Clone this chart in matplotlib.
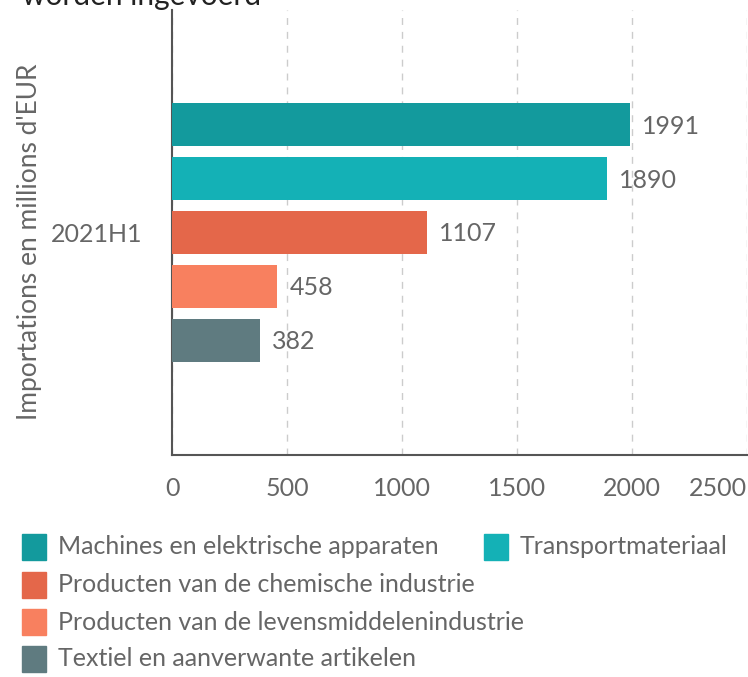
import matplotlib.pyplot as plt
from matplotlib.patches import Rectangle

plt.rcParams['font.family'] = ['Lato', 'DejaVu Sans']

categories = ["2021H1"]
series = ["Machines en elektrische apparaten", "Transportmateriaal",
          "Producten van de chemische industrie",
          "Producten van de levensmiddelenindustrie",
          "Textiel en aanverwante artikelen"]
values = [1991, 1890, 1107, 458, 382]
colors = ["#139a9d", "#14b1b6", "#e4674a", "#f8805f", "#5f7b80"]
x_ticks = [0, 500, 1000, 1500, 2000, 2500]

W, H = 748, 677
fig = plt.figure(figsize=(W / 100, H / 100), dpi=100)
ax = fig.add_axes([172 / W, 1 - 455 / H, (747 - 172) / W, (455 - 10) / H])

gray = "#666666"
step, height = 0.121, 0.097
for i, (name, v, c) in enumerate(zip(series, values, colors)):
    y = (i - 2) * step
    ax.barh(y, v, height=height, color=c, label=name, zorder=3)
    ax.annotate(str(v), (v, y), xytext=(9, -1), textcoords="offset points",
                va="center", ha="left", fontsize=18, color=gray, zorder=4)

ax.set_xlim(0, 2500)
ax.set_ylim(0.5, -0.5)
ax.set_yticks([0])
ax.set_yticklabels(categories)
ax.set_xticks(x_ticks)
ax.tick_params(axis="both", length=0, labelsize=18, labelcolor=gray)
ax.tick_params(axis="y", pad=21)
ax.tick_params(axis="x", pad=16)
ax.get_xticklabels()[-1].set_horizontalalignment("right")
ax.grid(axis="x", linestyle=(0, (5, 5)), color="#cccccc", linewidth=1, zorder=0)
for s in ["top", "right"]:
    ax.spines[s].set_visible(False)
for s in ["left", "bottom"]:
    ax.spines[s].set_color("#555555")
    ax.spines[s].set_linewidth(1.5)

fig.text(30 / W, 1 - 242 / H, "Importations en millions d'EUR", rotation=90,
         ha="center", va="center", fontsize=19, color=gray)

# partially cropped title
fig.text(22 / W, 1 - 5 / H, "worden ingevoerd", ha="left", va="baseline",
         fontsize=21.5, color="#222222")

# legend laid out as flowing rows
legend_pos = [(22, 547), (484, 547), (22, 585), (22, 622), (22, 659)]
for (lx, ly), name, c in zip(legend_pos, series, colors):
    fig.patches.append(Rectangle((lx / W, 1 - (ly + 13) / H), 24 / W, 26 / H,
                                 transform=fig.transFigure, color=c))
    fig.text((lx + 36) / W, 1 - ly / H, name, ha="left", va="center",
             fontsize=18, color=gray)

fig.savefig("out.png", dpi=100)
